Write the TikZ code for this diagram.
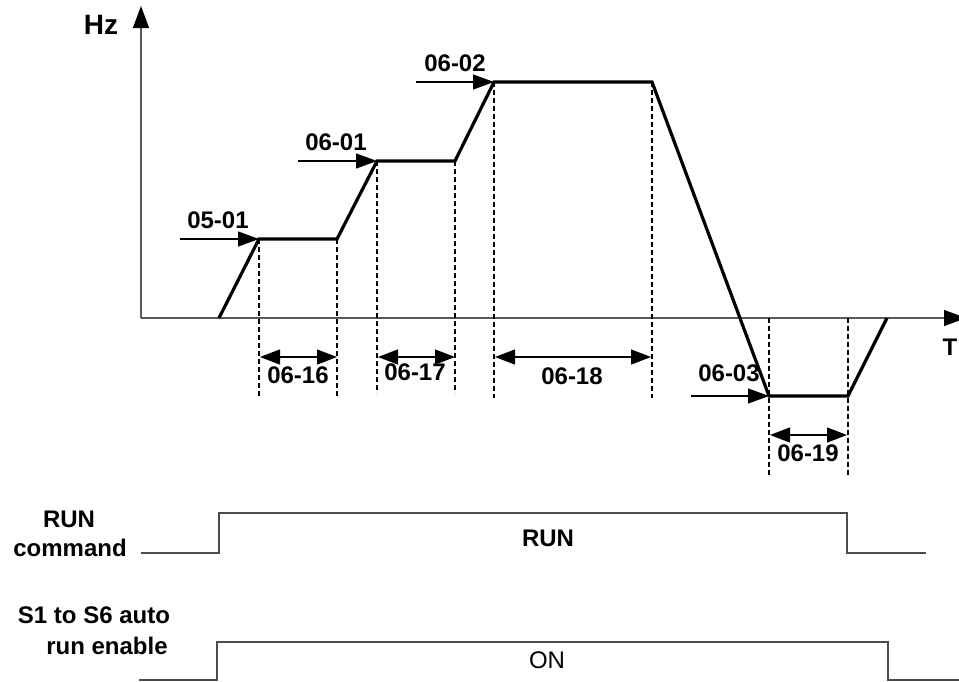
\documentclass[tikz,border=0pt]{standalone}
\usepackage{fontspec}
\setmainfont{Liberation Sans}
\usetikzlibrary{arrows.meta}
\begin{document}
\begin{tikzpicture}[x=1pt,y=-1pt,
  lbl/.style={font=\fontsize{24}{26}\selectfont\bfseries, inner sep=0pt},
  plainlbl/.style={font=\fontsize{24}{26}\selectfont, inner sep=0pt},
  axisline/.style={draw=black!65, line width=1.3pt, -{Triangle[length=22pt,width=16pt,color=black]}},
  prof/.style={line width=3.2pt, line join=miter},
  guide/.style={line width=1.2pt, dash pattern=on 5pt off 3pt},
  leveltip/.style={line width=1.2pt, -{Triangle[length=21pt,width=15pt]}},
  dim/.style={line width=1.2pt, {Triangle[length=20pt,width=15pt]}-{Triangle[length=20pt,width=15pt]}},
  sig/.style={draw=black!70, line width=1.5pt}
]
\useasboundingbox (0,0) rectangle (959,681);

% axes
\coordinate (O) at (141,318);
\coordinate (ytop) at (141,6);
\coordinate (xend) at (966,318);
\draw[axisline] (O) -- (ytop);
\draw[axisline] (O) -- (xend);
\node[lbl, font=\fontsize{28}{30}\selectfont\bfseries] (hz) at (101,25) {Hz};
\node[lbl] (tlab) at (950,347) {T};

% profile points
\coordinate (p0) at (219,318);
\coordinate (p1) at (259,239);
\coordinate (p2) at (337,239);
\coordinate (p3) at (377,161);
\coordinate (p4) at (455,161);
\coordinate (p5) at (494,82);
\coordinate (p6) at (652,82);
\coordinate (p7) at (769,396);
\coordinate (p8) at (848,396);
\coordinate (p9) at (887,318);
\draw[prof] (p0) -- (p1) -- (p2) -- (p3) -- (p4) -- (p5) -- (p6) -- (p7) -- (p8) -- (p9);

% dashed guides
\coordinate (g1) at (259,397);
\coordinate (g2) at (337,397);
\coordinate (g3) at (377,393);
\coordinate (g4) at (455,393);
\coordinate (g5) at (494,398);
\coordinate (g6) at (652,398);
\coordinate (g7t) at (769,318);
\coordinate (g7) at (769,476);
\coordinate (g8t) at (848,318);
\coordinate (g8) at (848,476);
\draw[guide] (p1) -- (g1);
\draw[guide] (p2) -- (g2);
\draw[guide] (p3) -- (g3);
\draw[guide] (p4) -- (g4);
\draw[guide] (p5) -- (g5);
\draw[guide] (p6) -- (g6);
\draw[guide] (g7t) -- (g7);
\draw[guide] (g8t) -- (g8);

% level arrows
\coordinate (a1) at (180,239);
\coordinate (a2) at (298,161);
\coordinate (a3) at (416,82);
\coordinate (a4) at (691,396);
\draw[leveltip] (a1) -- (p1);
\draw[leveltip] (a2) -- (p3);
\draw[leveltip] (a3) -- (p5);
\draw[leveltip] (a4) -- (p7);
\node[lbl] (l0501) at (218,220) {05-01};
\node[lbl] (l0601) at (336,142) {06-01};
\node[lbl] (l0602) at (455,63) {06-02};
\node[lbl] (l0603) at (729,373) {06-03};

% dimension arrows
\coordinate (d1a) at (260,357);
\coordinate (d1b) at (337,357);
\coordinate (d2a) at (378,357);
\coordinate (d2b) at (455,357);
\coordinate (d3a) at (495,357);
\coordinate (d3b) at (651,357);
\coordinate (d4a) at (770,435);
\coordinate (d4b) at (847,435);
\draw[dim] (d1a) -- (d1b);
\draw[dim] (d2a) -- (d2b);
\draw[dim] (d3a) -- (d3b);
\draw[dim] (d4a) -- (d4b);
\node[lbl] (l0616) at (298,375) {06-16};
\node[lbl] (l0617) at (415,372) {06-17};
\node[lbl] (l0618) at (572,376) {06-18};
\node[lbl] (l0619) at (808,453) {06-19};

% RUN command signal
\coordinate (r0) at (141,553);
\coordinate (r1) at (219,553);
\coordinate (r2) at (219,513);
\coordinate (r3) at (847,513);
\coordinate (r4) at (847,553);
\coordinate (r5) at (926,553);
\draw[sig] (r0) -- (r1) -- (r2) -- (r3) -- (r4) -- (r5);
\node[lbl] (runl1) at (69,519) {RUN};
\node[lbl] (runl2) at (70,548) {command};
\node[lbl] (runmid) at (548,538) {RUN};

% auto run enable signal
\coordinate (s0) at (139,680);
\coordinate (s1) at (217,680);
\coordinate (s2) at (217,642);
\coordinate (s3) at (888,642);
\coordinate (s4) at (888,680);
\coordinate (s5) at (962,680);
\draw[sig] (s0) -- (s1) -- (s2) -- (s3) -- (s4) -- (s5);
\node[lbl] (enl1) at (94,615) {S1 to S6 auto};
\node[lbl] (enl2) at (107,646) {run enable};
\node[plainlbl] (onlbl) at (547,660) {ON};
\end{tikzpicture}
\end{document}
